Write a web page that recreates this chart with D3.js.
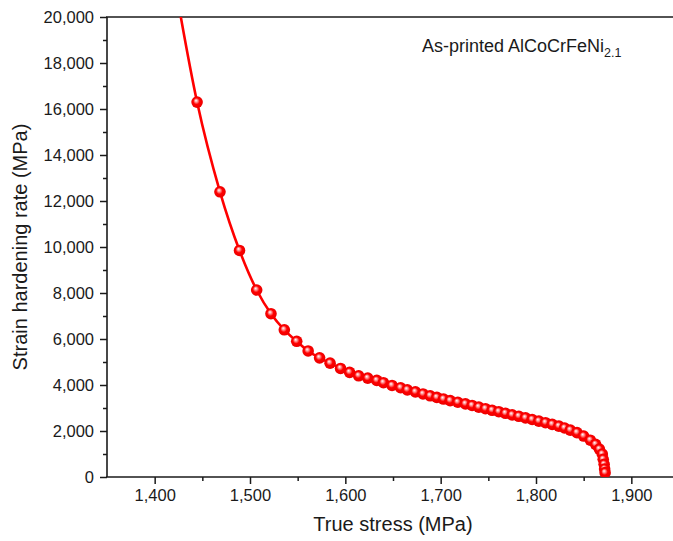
<!DOCTYPE html>
<html>
<head>
<meta charset="utf-8">
<script src="https://cdn.jsdelivr.net/npm/d3@7"></script>
<style>
  body { margin: 0; background: #fff; }
  svg { display: block; font-family: Arial, "Liberation Sans", sans-serif; }
</style>
</head>
<body>
<div class="chart"></div>
<script>
// true stress (MPa) and strain hardening rate (MPa)
const stress = [1421, 1444.5, 1468.5, 1489, 1507, 1522, 1536, 1549, 1561, 1573, 1584, 1595, 1604.5, 1614, 1623.5,
    1633, 1640, 1649, 1658, 1665, 1673.5, 1681.5, 1689, 1696, 1703, 1710, 1718, 1726, 1733, 1740, 1747, 1754,
    1761, 1768, 1775, 1782, 1789, 1796, 1803, 1810, 1817, 1824, 1830, 1836, 1843, 1850, 1857, 1862.5, 1866.5,
    1869.5, 1870.5, 1871.5, 1872, 1872.5];
const rate = [21500, 16300, 12400, 9850, 8130, 7100, 6400, 5900, 5480, 5180, 4950, 4720, 4550, 4400, 4300,
    4200, 4100, 3980, 3880, 3790, 3700, 3610, 3530, 3460, 3390, 3320, 3250, 3180, 3110, 3040, 2970, 2900,
    2840, 2770, 2700, 2640, 2570, 2500, 2430, 2360, 2290, 2210, 2130, 2040, 1930, 1780, 1600, 1420, 1210,
    1000, 770, 550, 350, 190];

const xTicks = [1400, 1500, 1600, 1700, 1800, 1900];
const xMinor = [1450, 1550, 1650, 1750, 1850, 1950];
const yTicks = [0, 2000, 4000, 6000, 8000, 10000, 12000, 14000, 16000, 18000, 20000];
const yMinor = [1000, 3000, 5000, 7000, 9000, 11000, 13000, 15000, 17000, 19000];

const xTitle = "True stress (MPa)";
const yTitle = "Strain hardening rate (MPa)";

const data = stress.map((s, i) => ({ s: s, r: rate[i] }));

const W = 673, H = 541;
const margin = { top: 17, left: 107 },
    width = 572,
    height = 460;

const svg = d3.select(".chart")
    .append("svg")
    .attr("width", W)
    .attr("height", H);

const defs = svg.append("defs");
defs.append("clipPath").attr("id", "plotclip")
    .append("rect").attr("x", 0).attr("y", 0).attr("width", width).attr("height", height);

const grad = defs.append("radialGradient").attr("id", "ball")
    .attr("cx", "50%").attr("cy", "50%").attr("r", "55%")
    .attr("fx", "40%").attr("fy", "35%");
grad.append("stop").attr("offset", "0%").attr("stop-color", "#ffffff");
grad.append("stop").attr("offset", "22%").attr("stop-color", "#ff9a9a");
grad.append("stop").attr("offset", "50%").attr("stop-color", "#ff0000");
grad.append("stop").attr("offset", "100%").attr("stop-color", "#e60000");

const g = svg.append("g")
    .attr("transform", `translate(${margin.left},${margin.top})`);

const x = d3.scaleLinear().domain([1350, 1950]).range([0, width]);
const y = d3.scaleLinear().domain([0, 20000]).range([height, 0]);

// axes
const fmt = d3.format(",");
g.append("g")
    .attr("transform", `translate(0,${height})`)
    .call(d3.axisBottom(x).tickValues(xTicks).tickFormat(fmt).tickSize(7).tickPadding(5).tickSizeOuter(0));
g.append("g")
    .attr("transform", `translate(0,${height})`)
    .call(d3.axisBottom(x).tickValues(xMinor).tickFormat("").tickSize(4).tickSizeOuter(0));

g.append("g")
    .call(d3.axisLeft(y).tickValues(yTicks).tickFormat(fmt).tickSize(7).tickPadding(6).tickSizeOuter(0));
g.append("g")
    .call(d3.axisLeft(y).tickValues(yMinor).tickFormat("").tickSize(4).tickSizeOuter(0));

g.selectAll(".domain").remove();
g.selectAll(".tick line").attr("stroke", "#1a1a1a").attr("stroke-width", 1.5);
g.selectAll(".tick text").attr("fill", "#1a1a1a").style("font-size", "16.5px");

// frame lines
g.append("line").attr("x1", -1).attr("x2", width).attr("y1", height).attr("y2", height)
    .attr("stroke", "#1a1a1a").attr("stroke-width", 1.6);
g.append("line").attr("x1", 0).attr("x2", 0).attr("y1", 0).attr("y2", height)
    .attr("stroke", "#1a1a1a").attr("stroke-width", 1.6);
g.append("line").attr("x1", -1).attr("x2", width).attr("y1", 0).attr("y2", 0)
    .attr("stroke", "#1a1a1a").attr("stroke-width", 1.6);

// curve
const plot = g.append("g").attr("clip-path", "url(#plotclip)");
plot.append("path")
    .datum(data)
    .attr("fill", "none")
    .attr("stroke", "#ff0000")
    .attr("stroke-width", 2.6)
    .attr("d", d3.line()
        .x(d => x(d.s))
        .y(d => y(d.r))
        .curve(d3.curveMonotoneX));

plot.selectAll(".pt")
    .data(data)
    .join("circle")
    .attr("class", "pt")
    .attr("cx", d => x(d.s))
    .attr("cy", d => y(d.r))
    .attr("r", 5.8)
    .attr("fill", "url(#ball)");

// titles
svg.append("text")
    .attr("x", margin.left + width / 2)
    .attr("y", 531)
    .attr("text-anchor", "middle")
    .style("font-size", "20px")
    .attr("fill", "#1a1a1a")
    .text(xTitle);

svg.append("text")
    .attr("transform", `translate(27,${margin.top + height / 2}) rotate(-90)`)
    .attr("text-anchor", "middle")
    .style("font-size", "20px")
    .attr("fill", "#1a1a1a")
    .text(yTitle);

// sample label
const lbl = svg.append("text")
    .attr("x", 422)
    .attr("y", 52)
    .style("font-size", "18px")
    .attr("fill", "#1a1a1a");
lbl.append("tspan").text("As-printed AlCoCrFeNi");
lbl.append("tspan").attr("dy", 5).style("font-size", "12.5px").text("2.1");
</script>
</body>
</html>
